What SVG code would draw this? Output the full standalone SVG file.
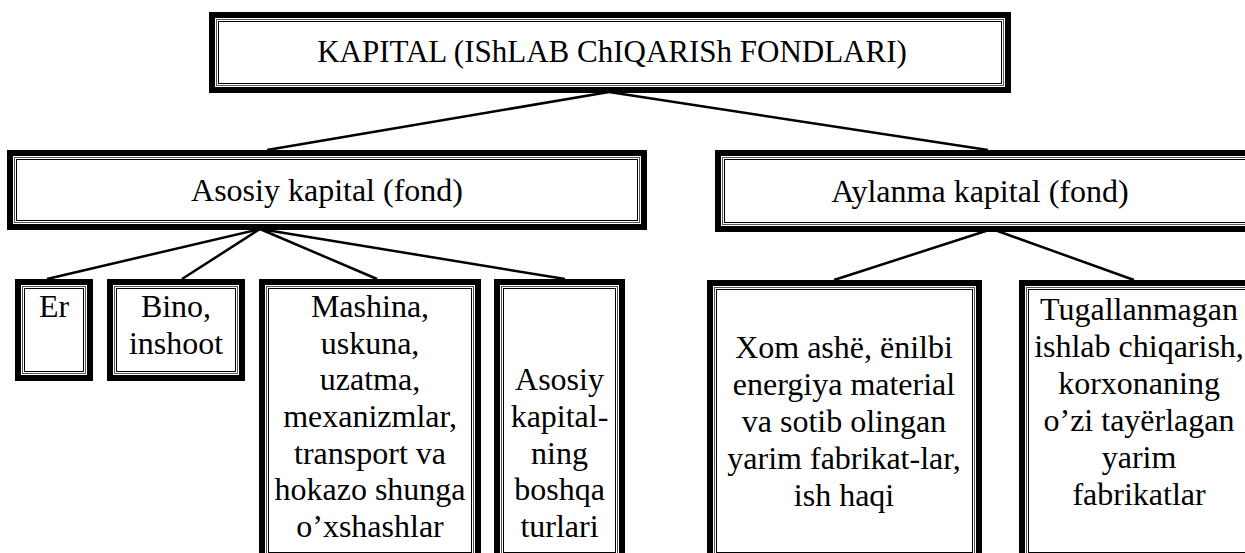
<svg xmlns="http://www.w3.org/2000/svg" width="1245" height="553" viewBox="0 0 1245 553">
<style>
.o{fill:#fff;stroke:#000;stroke-width:6}
.i{fill:none;stroke:#000;stroke-width:1}
.g{fill:none;stroke:#555;stroke-width:1}
.t{font-family:"Liberation Serif","Times New Roman",serif;font-size:32px;fill:#000;text-anchor:middle}
.c{stroke:#000;stroke-width:2.5;fill:none}
</style>
<rect width="1245" height="553" fill="#fff"/>
<g id="connectors">
<line class="c" x1="609" y1="92" x2="267" y2="150"/>
<line class="c" x1="609" y1="92" x2="988" y2="150"/>
<line class="c" x1="260" y1="229" x2="47" y2="279"/>
<line class="c" x1="260" y1="229" x2="182" y2="279"/>
<line class="c" x1="260" y1="229" x2="377" y2="279"/>
<line class="c" x1="260" y1="229" x2="565" y2="279"/>
<line class="c" x1="992" y1="229" x2="834" y2="280"/>
<line class="c" x1="992" y1="229" x2="1134" y2="280"/>
</g>
<g id="kapital">
<rect class="o" x="212" y="15" width="796" height="75"/>
<rect class="g" x="216.5" y="19.5" width="787" height="66"/>
<rect class="i" x="218.5" y="21.5" width="783" height="62"/>
<text class="t" x="612" y="62" style="font-size:31px">KAPITAL (IShLAB ChIQARISh FONDLARI)</text>
</g>
<g id="asosiy">
<rect class="o" x="10" y="153" width="634" height="74"/>
<rect class="g" x="14.5" y="157.5" width="625" height="65"/>
<rect class="i" x="16.5" y="159.5" width="621" height="61"/>
<text class="t" x="327" y="201">Asosiy kapital (fond)</text>
</g>
<g id="aylanma">
<rect class="o" x="718" y="153" width="540" height="76"/>
<rect class="g" x="722.5" y="157.5" width="531" height="67"/>
<rect class="i" x="724.5" y="159.5" width="527" height="63"/>
<text class="t" x="980" y="202">Aylanma kapital (fond)</text>
</g>
<g id="er">
<rect class="o" x="18" y="282" width="72" height="96"/>
<rect class="g" x="22.5" y="286.5" width="63" height="87"/>
<rect class="i" x="24.5" y="288.5" width="59" height="83"/>
<text class="t" x="54" y="317">Er</text>
</g>
<g id="bino">
<rect class="o" x="110" y="282" width="132" height="96"/>
<rect class="g" x="114.5" y="286.5" width="123" height="87"/>
<rect class="i" x="116.5" y="288.5" width="119" height="83"/>
<text class="t" x="176" y="317">Bino,</text>
<text class="t" x="176" y="354">inshoot</text>
</g>
<g id="mashina">
<rect class="o" x="262" y="282" width="216" height="290"/>
<rect class="g" x="266.5" y="286.5" width="207" height="290"/>
<rect class="i" x="268.5" y="288.5" width="203" height="264"/>
<text class="t" x="370" y="317">Mashina,</text>
<text class="t" x="370" y="354">uskuna,</text>
<text class="t" x="370" y="390">uzatma,</text>
<text class="t" x="370" y="427">mexanizmlar,</text>
<text class="t" x="370" y="464">transport va</text>
<text class="t" x="370" y="500">hokazo shunga</text>
<text class="t" x="370" y="537">o’xshashlar</text>
</g>
<g id="boshqa">
<rect class="o" x="497" y="282" width="125" height="290"/>
<rect class="g" x="501.5" y="286.5" width="116" height="290"/>
<rect class="i" x="503.5" y="288.5" width="112" height="264"/>
<text class="t" x="559.5" y="390">Asosiy</text>
<text class="t" x="559.5" y="427">kapital-</text>
<text class="t" x="559.5" y="464">ning</text>
<text class="t" x="559.5" y="500">boshqa</text>
<text class="t" x="559.5" y="537">turlari</text>
</g>
<g id="xom">
<rect class="o" x="710" y="283" width="269" height="290"/>
<rect class="g" x="714.5" y="287.5" width="260" height="290"/>
<rect class="i" x="716.5" y="289.5" width="256" height="263"/>
<text class="t" x="844" y="358">Xom ashë, ënilbi</text>
<text class="t" x="844" y="395">energiya material</text>
<text class="t" x="844" y="432">va sotib olingan</text>
<text class="t" x="844" y="469">yarim fabrikat-lar,</text>
<text class="t" x="844" y="506">ish haqi</text>
</g>
<g id="tugallanmagan">
<rect class="o" x="1022" y="283" width="240" height="290"/>
<rect class="g" x="1026.5" y="287.5" width="231" height="290"/>
<rect class="i" x="1028.5" y="289.5" width="227" height="263"/>
<text class="t" x="1139" y="320">Tugallanmagan</text>
<text class="t" x="1139" y="357">ishlab chiqarish,</text>
<text class="t" x="1139" y="394">korxonaning</text>
<text class="t" x="1139" y="431">o’zi tayërlagan</text>
<text class="t" x="1139" y="468">yarim</text>
<text class="t" x="1139" y="505">fabrikatlar</text>
</g>
</svg>
